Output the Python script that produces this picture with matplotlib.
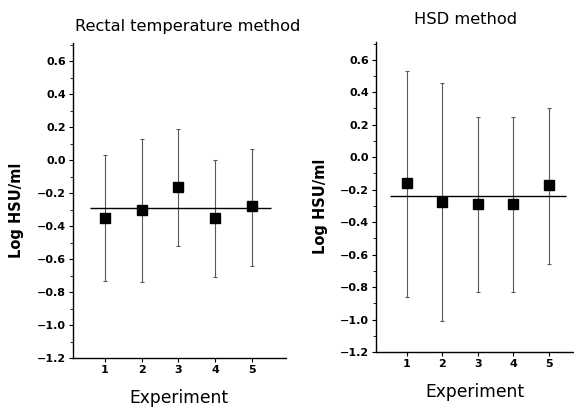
import numpy as np
import matplotlib
matplotlib.use("Agg")
import matplotlib.pyplot as plt
from matplotlib.ticker import MultipleLocator

# --- Data ---
experiments = [1, 2, 3, 4, 5]

rectal_mean = [-0.35, -0.30, -0.16, -0.35, -0.28]
rectal_low = [-0.73, -0.74, -0.52, -0.71, -0.64]
rectal_high = [0.03, 0.13, 0.19, 0.00, 0.07]
rectal_overall = -0.29

hsd_mean = [-0.16, -0.275, -0.29, -0.29, -0.17]
hsd_low = [-0.86, -1.01, -0.83, -0.83, -0.66]
hsd_high = [0.53, 0.46, 0.25, 0.25, 0.30]
hsd_overall = -0.24

y_ticks = [-1.2, -1.0, -0.8, -0.6, -0.4, -0.2, 0.0, 0.2, 0.4, 0.6]

plt.rcParams['font.family'] = ['DejaVu Sans']

fig = plt.figure(figsize=(5.74, 4.07), dpi=100)
ax1 = fig.add_axes([0.127, 0.120, 0.371, 0.774])
ax2 = fig.add_axes([0.655, 0.135, 0.345, 0.762])


def draw_panel(ax, mean, low, high, overall, xlim, hline_span, title, title_x,
               title_pad, ylab_x):
    mean = np.array(mean)
    yerr = [mean - np.array(low), np.array(high) - mean]
    ax.errorbar(experiments, mean, yerr=yerr, fmt='s', color='black',
                ecolor='0.35', elinewidth=0.8, capsize=1.5, capthick=0.8,
                markersize=6.5)
    ax.hlines(overall, hline_span[0], hline_span[1], color='black', lw=1.0)

    ax.set_xlim(*xlim)
    ax.set_ylim(-1.2, 0.71)
    ax.set_xticks(experiments)
    ax.set_yticks(y_ticks)
    ax.yaxis.set_minor_locator(MultipleLocator(0.1))
    ax.set_yticklabels([f"{v:.1f}".replace("-", "\u2212") for v in y_ticks])

    for s in ['top', 'right']:
        ax.spines[s].set_visible(False)
    ax.spines['left'].set_linewidth(1.0)
    ax.spines['bottom'].set_linewidth(1.0)

    ax.tick_params(axis='both', direction='out', length=3, width=0.8,
                   labelsize=8, pad=2)
    ax.tick_params(axis='y', which='minor', direction='out', length=2, width=0.6)
    for lab in ax.get_xticklabels() + ax.get_yticklabels():
        lab.set_fontweight('bold')

    ax.set_xlabel('Experiment', fontsize=12.3, labelpad=10)
    ax.set_ylabel('Log HSU/ml', fontsize=10.5, fontweight='bold')
    ax.yaxis.set_label_coords(ylab_x, 0.47)
    ax.set_title(title, fontsize=11.7, pad=title_pad, x=title_x)


draw_panel(ax1, rectal_mean, rectal_low, rectal_high, rectal_overall,
           (0.13, 5.93), (0.59, 5.52), 'Rectal temperature method', 0.54,
           9, -0.23)
draw_panel(ax2, hsd_mean, hsd_low, hsd_high, hsd_overall,
           (0.14, 5.70), (0.53, 5.47), 'HSD method', 0.45, 13, -0.24)

fig.savefig('out.png', dpi=100)
